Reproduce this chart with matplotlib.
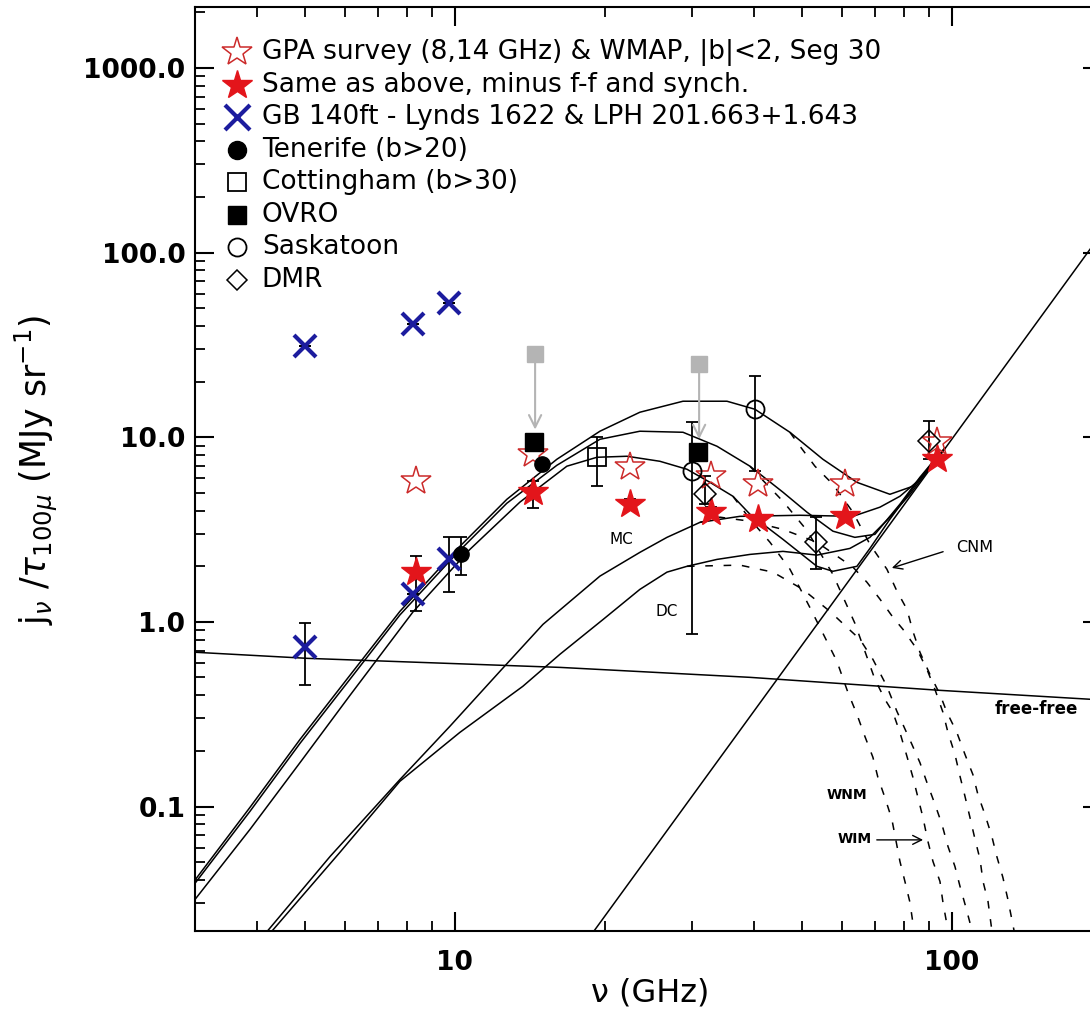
import numpy as np
import matplotlib.pyplot as plt
from matplotlib.ticker import NullFormatter

plt.rcParams['font.family'] = ['DejaVu Sans']
plt.rcParams['mathtext.fontset'] = 'dejavusans'

# ---- measurements ----
gpa_nu = [8.35, 14.35, 22.5, 32.8, 40.7, 60.9, 93.3]
gpa_j = [5.78, 8.09, 6.88, 6.15, 5.56, 5.56, 9.4]
sub_j = [1.86, 5.03, 4.33, 3.93, 3.59, 3.73, 7.60]
sub_lo = [1.14, 4.13, 4.05, 3.70, 3.40, 3.50, 7.20]
sub_hi = [2.27, 5.78, 4.65, 4.20, 3.80, 3.95, 8.00]

gb_nu = [5.0, 8.25, 9.75, 5.0, 8.25, 9.75]
gb_j = [31.1, 40.9, 53.2, 0.728, 1.41, 2.18]
gb_lo = [31.1, 40.9, 53.2, 0.454, 1.41, 1.45]
gb_hi = [31.1, 40.9, 53.2, 0.983, 1.41, 2.87]

ten_nu = [10.3, 15.0]
ten_j = [2.32, 7.14]
ten_lo = [1.79, 7.14]
ten_hi = [2.87, 7.14]

cott_nu = [19.3]
cott_j = [7.79]
cott_lo = [5.43]
cott_hi = [10.0]

ovro_nu = [14.4, 30.9]
ovro_j = [9.40, 8.29]
ovro_raw_nu = [14.5, 31.0]
ovro_raw_j = [28.2, 24.8]
ovro_raw_tip = [11.0, 9.75]

sask_nu = [30.0, 40.2]
sask_j = [6.54, 14.2]
sask_lo = [0.857, 6.54]
sask_hi = [12.06, 21.4]

dmr_nu = [31.9, 53.2, 89.9]
dmr_j = [4.91, 2.70, 9.51]
dmr_lo = [4.33, 1.93, 7.60]
dmr_hi = [6.15, 3.69, 12.2]

# ---- model curves (spinning dust + thermal dust) ----
cnm_nu = [3.0, 3.87, 4.88, 6.15, 7.75, 10.09, 12.72, 16.04, 19.58, 23.56, 28.77,
          35.27, 40.14, 47.21, 55.0, 64.39, 75.03, 83.47, 92.43, 96.81]
cnm_j = [0.040, 0.099, 0.231, 0.514, 1.14, 2.47, 4.61, 7.60, 10.78, 13.66, 15.67,
         15.67, 14.18, 10.64, 7.60, 5.70, 4.91, 5.43, 7.41, 8.72]
wim_nu = [3.0, 3.87, 4.88, 6.15, 7.75, 10.09, 12.72, 16.04, 19.58, 23.56, 28.77,
          33.67, 39.23, 45.71, 51.08, 57.61, 63.79, 69.99, 78.59, 86.22, 92.43, 96.81]
wim_j = [0.0384, 0.0942, 0.220, 0.489, 1.09, 2.35, 4.39, 7.05, 9.75, 10.78, 10.64,
         8.94, 6.97, 5.04, 3.93, 3.10, 2.87, 2.98, 4.34, 6.07, 7.60, 8.72]
wnm_nu = [3.0, 3.87, 4.88, 6.15, 8.23, 10.72, 13.51, 16.80, 19.31, 22.19, 25.85,
          29.30, 32.60, 36.26, 39.23, 45.71, 53.50, 57.61, 64.39, 68.39, 75.03,
          82.32, 92.43, 96.81]
wnm_j = [0.0314, 0.0752, 0.173, 0.400, 1.13, 2.47, 4.45, 6.97, 7.79, 7.89, 7.41,
         6.71, 5.70, 4.79, 3.83, 2.80, 2.00, 1.88, 2.00, 2.50, 3.60, 5.04, 7.60, 8.72]
mc_nu = [4.21, 5.61, 7.75, 9.77, 12.32, 15.04, 19.58, 23.56, 26.71, 31.12, 37.45,
         49.46, 63.21, 71.62, 78.59, 86.22, 96.81]
mc_j = [0.0214, 0.0537, 0.140, 0.272, 0.540, 0.970, 1.77, 2.38, 2.87, 3.46, 3.73,
        3.78, 3.73, 4.18, 4.79, 5.92, 8.72]
dc_nu = [4.30, 5.87, 7.75, 10.23, 13.70, 16.27, 19.86, 23.56, 26.71, 29.30, 33.67,
         39.23, 45.71, 53.50, 62.33, 68.39, 75.03, 82.32, 92.43, 96.81]
dc_j = [0.0214, 0.0565, 0.137, 0.252, 0.448, 0.668, 1.03, 1.50, 1.86, 2.00, 2.18,
        2.32, 2.41, 2.30, 2.50, 2.87, 3.69, 4.91, 7.41, 8.72]

# ---- spinning dust only (dashed) ----
cnm_sp_nu = [47.21, 49.46, 53.01, 57.61, 63.21, 68.39, 73.98, 77.49, 81.19, 83.47,
             86.22, 90.30, 94.61, 97.70, 102.3, 106.2, 110.2, 112.8, 116.5, 120.3,
             123.1, 126.6, 129.6, 133.3]
cnm_sp_j = [10.64, 8.94, 6.97, 5.56, 3.93, 2.63, 1.93, 1.47, 1.17, 0.889, 0.685,
            0.520, 0.405, 0.324, 0.252, 0.192, 0.149, 0.116, 0.0907, 0.0690,
            0.0537, 0.0414, 0.0314, 0.0214]
wim_sp_nu = [39.23, 41.09, 45.71, 51.08, 57.61, 63.79, 69.99, 73.30, 76.07, 78.59,
             81.19, 83.47, 85.43, 87.43, 89.47, 91.58, 94.61, 95.92, 98.17]
wim_sp_j = [6.97, 6.07, 4.50, 3.13, 1.81, 0.983, 0.489, 0.381, 0.324, 0.252,
            0.187, 0.144, 0.112, 0.0874, 0.0648, 0.0505, 0.0393, 0.0303, 0.0214]
wnm_sp_nu = [36.26, 39.23, 43.04, 47.21, 49.92, 52.27, 55.52, 58.69, 61.75, 64.39,
             66.81, 69.34, 70.96, 73.30, 75.72, 78.59, 80.43, 82.32, 83.86]
wnm_sp_j = [4.79, 3.60, 2.70, 1.93, 1.45, 1.14, 0.825, 0.612, 0.416, 0.316,
            0.240, 0.185, 0.144, 0.112, 0.0852, 0.0505, 0.0393, 0.0303, 0.0214]
mc_sp_nu = [31.12, 34.14, 39.23, 45.71, 53.50, 63.21, 67.45, 71.62, 76.07, 79.69,
            85.04, 89.06, 92.43, 95.92, 98.17, 101.4, 103.8, 106.2, 108.7, 111.3,
            113.9, 115.5, 118.2, 120.3]
mc_sp_j = [3.46, 3.69, 3.51, 3.17, 2.70, 1.98, 1.64, 1.33, 1.06, 0.912, 0.711,
           0.554, 0.431, 0.324, 0.252, 0.192, 0.146, 0.114, 0.0874, 0.0664,
           0.0518, 0.0393, 0.0306, 0.0214]
dc_sp_nu = [29.30, 37.45, 43.64, 50.14, 56.82, 61.47, 65.29, 69.34, 73.98, 77.49,
            79.32, 83.09, 86.22, 89.06, 92.43, 95.48, 98.17, 101.4, 103.8, 106.7,
            109.7]
dc_sp_j = [2.00, 2.03, 1.86, 1.50, 1.14, 0.935, 0.805, 0.627, 0.448, 0.328, 0.286,
           0.217, 0.173, 0.135, 0.103, 0.0801, 0.0609, 0.0474, 0.0370, 0.0284,
           0.0214]

dust_nu = [19.1, 200.0]
dust_j = [0.0214, 127.0]
ff_nu = [3.0, 5.04, 16.3, 39.2, 94.6, 190.0, 200.0]
ff_j = [0.685, 0.635, 0.567, 0.501, 0.426, 0.381, 0.378]

fig = plt.figure(figsize=(10.9, 10.17), dpi=100)
ax = fig.add_axes([0.1789, 0.0846, 0.8317, 0.9086])
ax.set_xscale('log')
ax.set_yscale('log')
ax.set_xlim(3.0, 200.0)
ax.set_ylim(0.0212, 2140)

lw = 1.1
for nu, j in [(cnm_nu, cnm_j), (wim_nu, wim_j), (wnm_nu, wnm_j),
              (mc_nu, mc_j), (dc_nu, dc_j), (dust_nu, dust_j), (ff_nu, ff_j)]:
    ax.plot(nu, j, color='black', lw=lw, zorder=2)
for nu, j in [(cnm_sp_nu, cnm_sp_j), (wim_sp_nu, wim_sp_j), (wnm_sp_nu, wnm_sp_j),
              (mc_sp_nu, mc_sp_j), (dc_sp_nu, dc_sp_j)]:
    ax.plot(nu, j, color='black', lw=lw, ls=(0, (5, 7)), zorder=2)

red = '#e3151b'
blue = '#1c1c9e'
eb = dict(fmt='none', ecolor='black', elinewidth=1.3, capsize=4.5, capthick=1.3, zorder=3)


def bars(nu, j, lo, hi):
    j = np.array(j)
    ax.errorbar(nu, j, yerr=[j - np.array(lo), np.array(hi) - j], **eb)


bars(gb_nu, gb_j, gb_lo, gb_hi)
bars(ten_nu, ten_j, ten_lo, ten_hi)
bars(cott_nu, cott_j, cott_lo, cott_hi)
bars(sask_nu, sask_j, sask_lo, sask_hi)
bars(dmr_nu, dmr_j, dmr_lo, dmr_hi)

# OVRO before correction (grey) with arrows
ax.plot(ovro_raw_nu, ovro_raw_j, 's', ms=12, color='#b4b4b4', mec='#b4b4b4', zorder=4)
for x, y0, y1 in zip(ovro_raw_nu, ovro_raw_j, ovro_raw_tip):
    ax.annotate('', xy=(x, y1), xytext=(x, y0),
                arrowprops=dict(arrowstyle='->', color='#b4b4b4', lw=1.5,
                                mutation_scale=22, shrinkA=6, shrinkB=0), zorder=3)

ax.plot(gpa_nu, gpa_j, '*', ms=22, mfc='none', mec='#cc2a2a', mew=1.1, zorder=5)
ax.plot(gpa_nu, sub_j, '*', ms=22, color=red, mec=red, zorder=4)
bars(gpa_nu, sub_j, sub_lo, sub_hi)
ax.plot(gb_nu, gb_j, 'x', ms=16, mew=3, color=blue, zorder=5)
ax.plot(ten_nu, ten_j, 'o', ms=11, color='black', zorder=5)
ax.plot(cott_nu, cott_j, 's', ms=13, mfc='none', mec='black', mew=1.3, zorder=5)
ax.plot(ovro_nu, ovro_j, 's', ms=13, color='black', zorder=5)
ax.plot(sask_nu, sask_j, 'o', ms=13, mfc='none', mec='black', mew=1.3, zorder=5)
ax.plot(dmr_nu, dmr_j, 'D', ms=11, mfc='none', mec='black', mew=1.1, zorder=5)

# labels on the curves
ax.text(21.6, 2.78, 'MC', fontsize=11, ha='center', va='center')
ax.text(26.7, 1.14, 'DC', fontsize=11, ha='center', va='center')
ax.text(111, 2.52, 'CNM', fontsize=11.5, ha='center', va='center')
ax.annotate('', xy=(75.7, 1.96), xytext=(96.0, 2.40),
            arrowprops=dict(arrowstyle='->', lw=1.0, color='black', mutation_scale=16,
                            shrinkA=0, shrinkB=0))
ax.text(61.5, 0.115, 'WNM', fontsize=10, ha='center', va='center', fontweight='bold')
ax.text(63.8, 0.067, 'WIM', fontsize=10, ha='center', va='center', fontweight='bold')
ax.annotate('', xy=(87.5, 0.066), xytext=(70.6, 0.066),
            arrowprops=dict(arrowstyle='->', lw=1.0, color='black', mutation_scale=16,
                            shrinkA=0, shrinkB=0))
ax.text(122, 0.338, 'free-free', fontsize=12, ha='left', va='center', fontweight='bold')

# legend drawn by hand
legend_rows = [
    ('GPA survey (8,14 GHz) & WMAP, |b|<2, Seg 30', dict(marker='*', ms=22, mfc='none', mec='#cc2a2a', mew=1.1)),
    ('Same as above, minus f-f and synch.', dict(marker='*', ms=22, color=red)),
    ('GB 140ft - Lynds 1622 & LPH 201.663+1.643', dict(marker='x', ms=18, mew=3, color=blue)),
    ('Tenerife (b>20)', dict(marker='o', ms=13, color='black')),
    ('Cottingham (b>30)', dict(marker='s', ms=13, mfc='none', mec='black', mew=1.3)),
    ('OVRO', dict(marker='s', ms=13, color='black')),
    ('Saskatoon', dict(marker='o', ms=13, mfc='none', mec='black', mew=1.3)),
    ('DMR', dict(marker='D', ms=10, mfc='none', mec='black', mew=1.1)),
]
for i, (lab, st) in enumerate(legend_rows):
    yy = 0.951 - i * 0.0352
    ax.plot([0.0462], [yy], transform=ax.transAxes, clip_on=False, ls='none', **st)
    ax.text(0.0737, yy, lab, transform=ax.transAxes, fontsize=19, va='center', ha='left')

ax.set_xticks([10, 100])
ax.set_xticklabels(['10', '100'])
ax.set_yticks([0.1, 1, 10, 100, 1000])
ax.set_yticklabels(['0.1', '1.0', '10.0', '100.0', '1000.0'])
ax.xaxis.set_minor_formatter(NullFormatter())
ax.yaxis.set_minor_formatter(NullFormatter())
ax.tick_params(which='both', direction='in', top=True, right=True)
ax.tick_params(which='major', length=13.5, width=1.5, labelsize=19)
ax.tick_params(which='minor', length=7, width=1.3)
ax.tick_params(axis='y', pad=7)
ax.tick_params(axis='x', pad=14)
for lbl in ax.get_xticklabels() + ax.get_yticklabels():
    lbl.set_fontweight('bold')
for s in ax.spines.values():
    s.set_linewidth(1.5)

fig.text(650 / 1090, 1 - 993 / 1017, 'ν (GHz)', fontsize=23, ha='center', va='center')
fig.text(36 / 1090, 1 - 470 / 1017, r'j$_\nu$ /$\tau_{100\mu}$ (MJy sr$^{-1}$)',
         fontsize=25, rotation=90, ha='center', va='center')

fig.savefig('out.png', dpi=100)
